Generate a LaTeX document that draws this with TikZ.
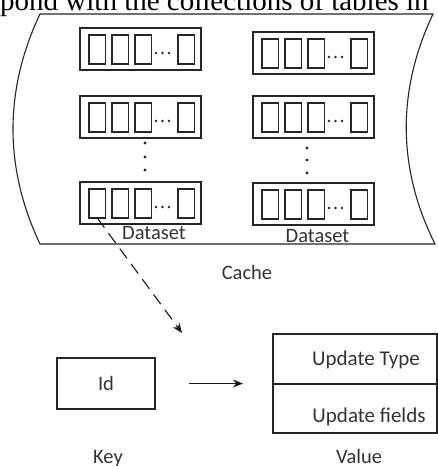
\documentclass[tikz,border=0pt]{standalone}
\usepackage{fontspec}
\setmainfont{Carlito}
\newfontfamily\serifpage{Liberation Serif}
\usetikzlibrary{arrows.meta}
\tikzset{
  ln/.style={draw=black!85, line width=1.1pt},
  dsbox/.style={ln, rectangle, minimum width=121pt, minimum height=42pt, inner sep=0pt, outer sep=0pt},
  cell/.style={ln, rectangle, minimum width=16.5pt, minimum height=29pt, inner sep=0pt, outer sep=0pt},
  plainbox/.style={ln, rectangle, inner sep=0pt, outer sep=0pt},
  lbl/.style={inner sep=0pt, text=black!80, font=\fontsize{20.5}{24}\selectfont},
  vlbl/.style={inner sep=0pt, text=black!80, font=\fontsize{21}{24}\selectfont},
  dotf/.style={fill=black!85},
  arr/.style={draw=black!90, line width=1.1pt, -{Stealth[length=10pt,width=8pt]}},
  dasharr/.style={arr, dash pattern=on 12pt off 7pt}
}
\newcommand\DSrow[3]{%
  \node[dsbox, anchor=north west] (#1) at (#2,#3) {};
  \node[cell, anchor=north west] (#1a) at ([xshift=9pt,yshift=-7pt]#1.north west) {};
  \node[cell, anchor=north west] (#1b) at ([xshift=32pt,yshift=-7pt]#1.north west) {};
  \node[cell, anchor=north west] (#1c) at ([xshift=55pt,yshift=-7pt]#1.north west) {};
  \node[cell, anchor=north west] (#1d) at ([xshift=98pt,yshift=-7pt]#1.north west) {};
  \fill[dotf] ([xshift=76pt,yshift=-25pt]#1.north west) circle (1.4pt);
  \fill[dotf] ([xshift=82.5pt,yshift=-25pt]#1.north west) circle (1.4pt);
  \fill[dotf] ([xshift=89pt,yshift=-25pt]#1.north west) circle (1.4pt);
}
\begin{document}
\begin{tikzpicture}[x=1pt,y=-1pt]
\useasboundingbox (0,0) rectangle (438,466);
\fill[white] (0,0) rectangle (438,466);
\clip (0,0) rectangle (438,466);

% clipped page text at top
\node[anchor=base west, inner sep=0pt, font=\serifpage\fontsize{29}{30}\selectfont] (pagetext) at (0,10) {pond with the collections of tables in};

% cache outline
\draw[ln] (40,14) -- (433,14)
  .. controls (397,90) and (397,168) .. (435,244)
  -- (40,244)
  .. controls (4,168) and (4,90) .. (40,14) -- cycle;

% datasets
\DSrow{la}{80}{28}
\DSrow{lb}{80}{96}
\DSrow{lc}{80}{182}
\DSrow{ra}{253}{32}
\DSrow{rb}{253}{96}
\DSrow{rc}{253}{183}

% vertical dots
\fill[dotf] (145,143) circle (1.6pt);
\fill[dotf] (145,157) circle (1.6pt);
\fill[dotf] (145,170) circle (1.6pt);
\fill[dotf] (307,148) circle (1.6pt);
\fill[dotf] (307,160) circle (1.6pt);
\fill[dotf] (307,173) circle (1.6pt);

% labels
\node[lbl, anchor=base] (dsl) at (154,239) {Dataset};
\node[lbl, anchor=base] (dsr) at (317.5,242) {Dataset};
\node[lbl, anchor=base] (cache) at (247,279) {Cache};

% key / value
\node[plainbox, minimum width=98pt, minimum height=51pt, lbl] (id) at (106,383.5) {Id};
\node[plainbox, anchor=north west, minimum width=164pt, minimum height=50pt] (valtop) at (273,334) {};
\node[plainbox, anchor=north west, minimum width=164pt, minimum height=49pt] (valbot) at (273,384) {};
\node[vlbl, anchor=base] (ut) at (366,365) {Update Type};
\node[vlbl, anchor=base] (uf) at (369,422) {Update fields};
\node[lbl, anchor=base] (key) at (108,463) {Key};
\node[lbl, anchor=base] (value) at (359,463) {Value};

% connectors
\coordinate (tip) at (182,333);
\draw[dasharr] (lca.south) -- (tip);
\draw[arr, shorten <=34pt, shorten >=30pt] (id.east) -- (id.east -| valtop.south west);
\end{tikzpicture}
\end{document}
